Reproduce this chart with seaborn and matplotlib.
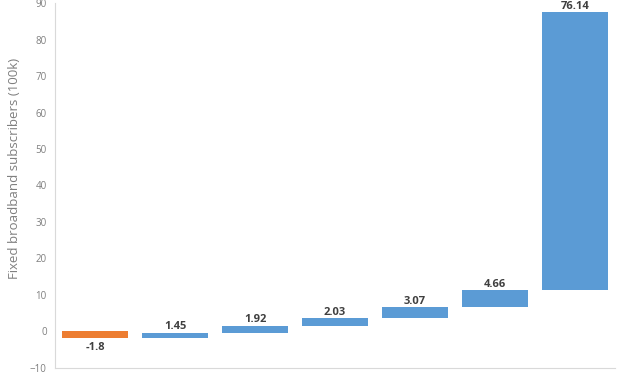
import matplotlib
matplotlib.use("Agg")
import matplotlib.pyplot as plt
import seaborn as sns
import numpy as np

categories = ["Step 1", "Step 2", "Step 3", "Step 4", "Step 5", "Step 6", "Step 7"]
changes = [-1.8, 1.45, 1.92, 2.03, 3.07, 4.66, 76.14]
value_labels = ["-1.8", "1.45", "1.92", "2.03", "3.07", "4.66", "76.14"]

sns.set_theme(style="white")
plt.rcParams['font.family'] = ['Open Sans', 'DejaVu Sans']

changes_arr = np.array(changes)
ends = np.cumsum(changes_arr)
starts = ends - changes_arr
bottoms = np.minimum(starts, ends)
heights = np.abs(changes_arr)

fig = plt.figure(figsize=(6.27, 3.76), dpi=100)
ax = fig.add_axes([0.0877, 0.0213, 0.8933, 0.9707])

blue = "#5B9BD5"
orange = "#ED7D31"
sns.barplot(x=categories, y=heights, bottom=bottoms, color=blue, width=0.83,
            saturation=1, ax=ax)
for p, c in zip(ax.patches, changes):
    p.set_facecolor(orange if c < 0 else blue)
    p.set_edgecolor("none")

for i, (c, lab) in enumerate(zip(changes, value_labels)):
    if c < 0:
        ax.annotate(lab, (i, bottoms[i]), xytext=(0, -2.5), textcoords="offset points",
                    ha="center", va="top", fontsize=8, fontweight="bold", color="#404040",
                    annotation_clip=False)
    else:
        ax.annotate(lab, (i, bottoms[i] + heights[i]), xytext=(0, 2.5), textcoords="offset points",
                    ha="center", va="baseline", fontsize=8, fontweight="bold", color="#404040",
                    annotation_clip=False)

ax.set_ylim(-10, 90)
ax.set_xlim(-0.5, 6.5)
ax.set_yticks(range(-10, 91, 10))
ax.tick_params(axis="y", labelsize=7, colors="#7f7f7f", length=0, pad=6)
ax.set_xticks([])
ax.set_xlabel("")
ax.set_ylabel("Fixed broadband subscribers (100k)", fontsize=9.5, color="#7f7f7f")
ax.yaxis.set_label_coords(-0.06, 0.548)
for s in ["top", "right"]:
    ax.spines[s].set_visible(False)
for s in ["left", "bottom"]:
    ax.spines[s].set_color("#d9d9d9")
    ax.spines[s].set_linewidth(0.8)

fig.savefig("out.png", dpi=100)
